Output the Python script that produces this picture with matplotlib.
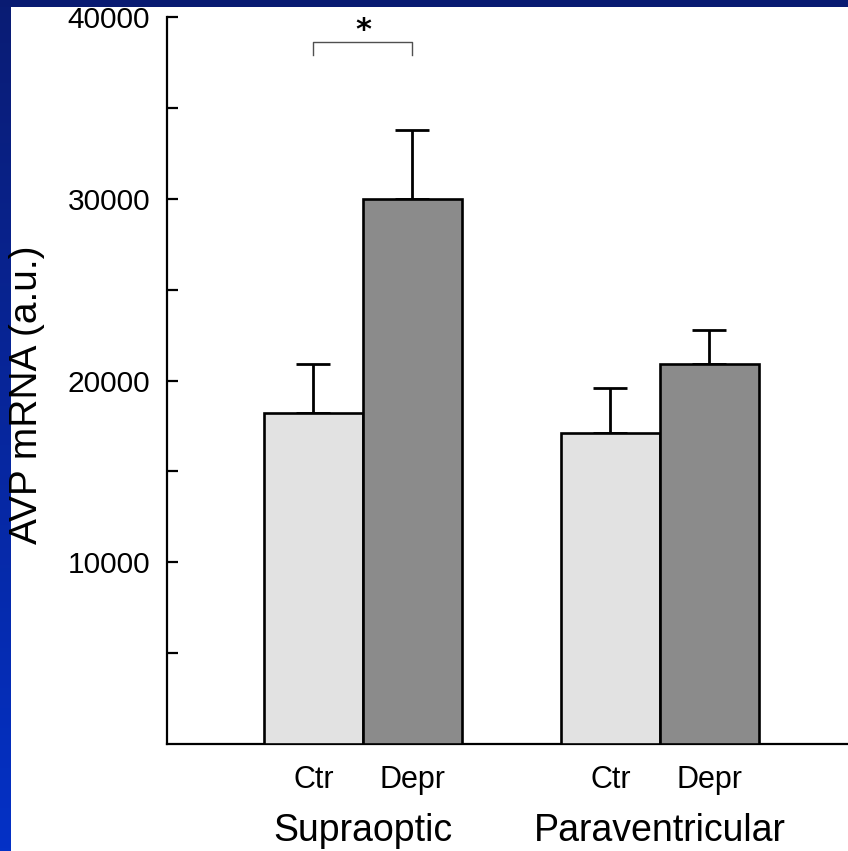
import matplotlib
matplotlib.use("Agg")
import matplotlib.pyplot as plt
from matplotlib.colors import LinearSegmentedColormap
import numpy as np

plt.rcParams['font.family'] = ['Liberation Sans', 'DejaVu Sans']

# values (a.u.)
regions = ["Supraoptic", "Paraventricular"]
conditions = ["Ctr", "Depr"]
means = [18200, 30000, 17100, 20900]
errs = [2700, 3800, 2500, 1900]
bar_colors = ["#e2e2e2", "#8b8b8b", "#e2e2e2", "#8b8b8b"]
ytick_major = [10000, 20000, 30000, 40000]
ytick_minor = [5000, 15000, 25000, 35000]

xpos = [1.5, 2.5, 4.5, 5.5]

fig = plt.figure(figsize=(8.48, 8.51), dpi=100)
fig.patch.set_facecolor("white")

# blue slide frame (left strip with gradient, top strip)
W, H = 848.0, 851.0
frame_l = fig.add_axes([0, 0, 11 / W, 1])
grad = np.linspace(0, 1, 256).reshape(-1, 1)
cm = LinearSegmentedColormap.from_list("slide", ["#0a1c74", "#0431c6"])
frame_l.imshow(grad, aspect="auto", cmap=cm, extent=[0, 1, 0, 1], origin="upper")
frame_l.axis("off")
frame_t = fig.add_axes([0, 1 - 7 / H, 1, 7 / H])
frame_t.set_facecolor("#091b72")
frame_t.set_xticks([])
frame_t.set_yticks([])
for s in frame_t.spines.values():
    s.set_visible(False)

ax = fig.add_axes([167 / W, (H - 744) / H, 1 - 167 / W, (744 - 17) / H])
ax.bar(xpos, means, width=1.0, color=bar_colors, edgecolor="black", linewidth=1.9, zorder=3)
ax.errorbar(xpos, means, yerr=[np.zeros(len(errs)), errs], fmt="none", ecolor="black",
            elinewidth=2.0, capsize=12, capthick=2.0, zorder=2)

ax.set_xlim(0.02, 6.9)
ax.set_ylim(0, 40000)
ax.set_yticks(ytick_major)
ax.set_yticks(ytick_minor, minor=True)
ax.tick_params(axis="y", which="both", direction="in", length=8, width=1.6, labelsize=21.5, pad=12)
ax.set_xticks(xpos)
ax.set_xticklabels(conditions * 2)
ax.tick_params(axis="x", length=0, labelsize=22, pad=15)
for side in ["top", "right"]:
    ax.spines[side].set_visible(False)
ax.spines["left"].set_linewidth(1.6)
ax.spines["bottom"].set_linewidth(1.6)

ax.set_ylabel("AVP mRNA (a.u.)", fontsize=28)
ax.yaxis.set_label_coords(-(167 - 45) / (W - 167), (744 - 395) / 727)

for i, name in enumerate(regions):
    cx = (xpos[2 * i] + xpos[2 * i + 1]) / 2
    ax.annotate(name, xy=(cx, 0), xycoords=("data", "axes fraction"),
                xytext=(0, -70), textcoords="offset points",
                ha="center", va="baseline", fontsize=27)

# significance bracket between Supraoptic Ctr and Depr
ax.plot([xpos[0], xpos[0], xpos[1], xpos[1]], [37900, 38600, 38600, 37900],
        color="#505050", linewidth=1.0, clip_on=False)
ax.text((xpos[0] + xpos[1]) / 2, 38800, "*", ha="center", va="baseline", fontsize=22,
        fontweight="bold", family="DejaVu Sans")

fig.savefig("out.png", dpi=100, facecolor=fig.get_facecolor())
